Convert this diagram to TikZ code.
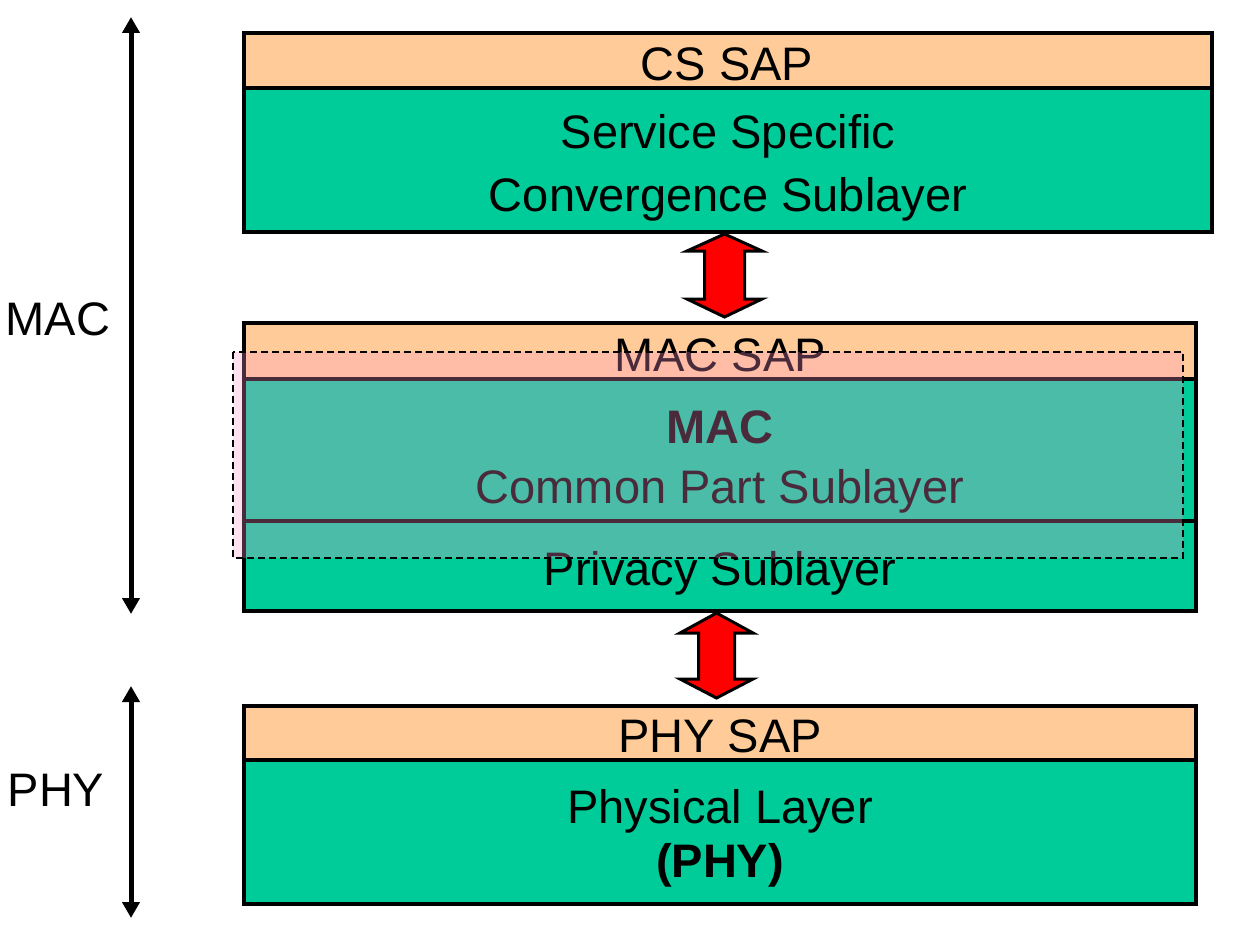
\documentclass[tikz,border=0pt]{standalone}
\usepackage{fontspec}
\setmainfont{Liberation Sans}
\usetikzlibrary{arrows.meta}
\definecolor{sapor}{RGB}{255,204,153}
\definecolor{laygr}{RGB}{0,204,153}
\definecolor{ovpink}{RGB}{255,150,204}
\definecolor{arred}{RGB}{255,0,0}
\tikzset{
  band/.style={draw=black, line width=4pt, rectangle, inner sep=0pt},
  sapband/.style={band, fill=sapor},
  layband/.style={band, fill=laygr},
  lbl/.style={inner sep=0pt, anchor=base, font=\fontsize{47}{56}\selectfont},
  blbl/.style={lbl, font=\fontsize{47}{56}\selectfont\bfseries},
  sidearrow/.style={line width=5pt, {Triangle[width=17pt,length=16pt]}-{Triangle[width=17pt,length=16pt]}},
  redarrow/.style={fill=arred, draw=black, line width=3pt, line join=miter},
}
\begin{document}
\begin{tikzpicture}[x=1pt,y=-1pt]
\useasboundingbox (0,0) rectangle (1246,944);
% top stack
\node[layband, minimum width=968pt, minimum height=144pt] (ssc) at (728,160) {};
\node[sapband, minimum width=968pt, minimum height=55pt] (cssap) at (728,60.5) {};
% middle stack
\node[layband, minimum width=952pt, minimum height=90pt] (priv) at (720,566) {};
\node[layband, minimum width=952pt, minimum height=142pt] (cps) at (720,450) {};
\node[sapband, minimum width=952pt, minimum height=56pt] (macsap) at (720,351) {};
% bottom stack
\node[layband, minimum width=952pt, minimum height=144pt] (phy) at (720,832) {};
\node[sapband, minimum width=952pt, minimum height=54pt] (physap) at (720,733) {};
% texts
\node[lbl] (tcs) at (727,81) {CS SAP};
\node[lbl] (tss1) at (728,149) {Service Specific};
\node[lbl] (tss2) at (728,211) {Convergence Sublayer};
\node[lbl] (tms) at (720,371) {MAC SAP};
\node[blbl] (tmac) at (720,443) {MAC};
\node[lbl] (tcps) at (720,503) {Common Part Sublayer};
\node[lbl] (tpriv) at (720,585) {Privacy Sublayer};
\node[lbl] (tps) at (720,752) {PHY SAP};
\node[lbl] (tpl) at (720,823) {Physical Layer};
\node[blbl] (tphy) at (720,877) {(PHY)};
\node[lbl] (lmac) at (58,335) {MAC};
\node[lbl] (lphy) at (56,806) {PHY};
% side arrows
\coordinate (m1) at (131,17);
\coordinate (m2) at (131,614);
\coordinate (p1) at (131,686);
\coordinate (p2) at (131,918);
\draw[sidearrow] (m1) -- (m2);
\draw[sidearrow] (p1) -- (p2);
% red double arrows
\draw[redarrow] (724.5,234) -- (762,251) -- (744.5,251) -- (744.5,299) -- (762,299) -- (724.5,317) -- (687,299) -- (704.5,299) -- (704.5,251) -- (687,251) -- cycle;
\draw[redarrow] (716.5,613) -- (753,633) -- (734.5,633) -- (734.5,679) -- (753,679) -- (716.5,698) -- (680,679) -- (698.5,679) -- (698.5,633) -- (680,633) -- cycle;
% translucent dashed overlay
\fill[ovpink, opacity=0.29] (233,352) rectangle (1183,558);
\draw[black, line width=1.5pt, dash pattern=on 7pt off 4pt] (233,352) rectangle (1183,558);
\end{tikzpicture}
\end{document}
